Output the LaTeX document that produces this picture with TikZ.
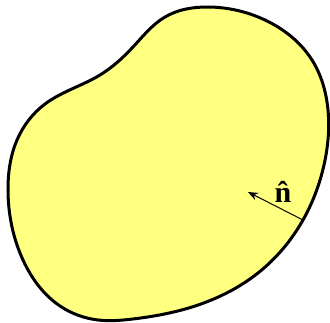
\documentclass[tikz,border=0pt]{standalone}
\usepackage{fontspec}
\setmainfont{Liberation Serif}
\usetikzlibrary{arrows.meta,hobby}
\definecolor{blobfill}{RGB}{255,255,128}
\tikzset{
  blob/.style={draw=black, line width=3pt, fill=blobfill},
  normalarrow/.style={draw=black, line width=1pt, -{Stealth[length=10pt,width=8pt]}},
  lbl/.style={font=\fontsize{30}{30}\selectfont\bfseries, inner sep=0pt}
}
\begin{document}
\begin{tikzpicture}[x=1pt,y=-1pt]
\useasboundingbox (0,0) rectangle (330,323);
\draw[blob, use Hobby shortcut, closed=true]
 (208,7) .. (265,20) .. (312,60) .. (328,110) .. (324,165) .. (303,220)
 .. (258,273) .. (192,307) .. (133,319) .. (98,320) .. (60,306) .. (23,260)
 .. (8,190) .. (17,140) .. (45,104) .. (100,75) .. (133,47) .. (165,17);
\coordinate (s) at (303,220);
\coordinate (t) at (248,192);
\draw[normalarrow] (s) -- (t);
\node[lbl] (n) at (283,192) {\^{n}};
\end{tikzpicture}
\end{document}
